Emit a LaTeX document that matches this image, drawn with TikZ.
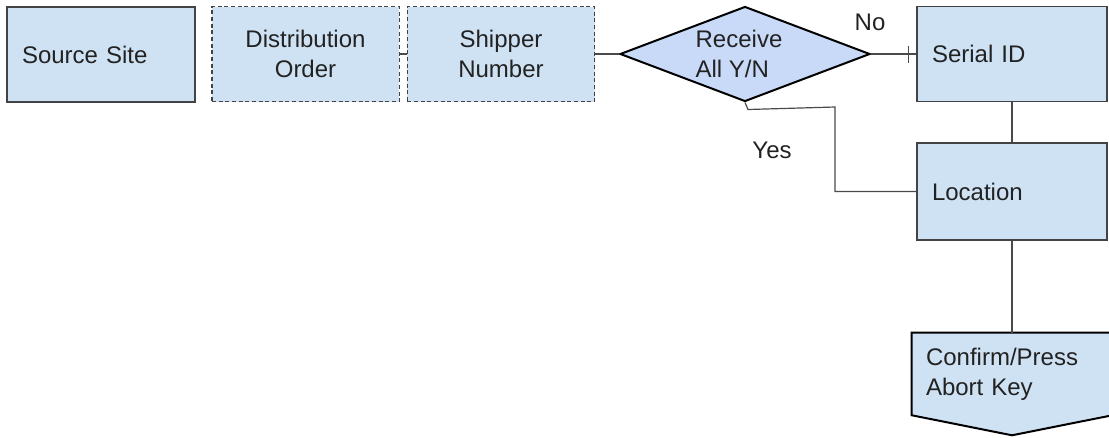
\documentclass[tikz,border=0pt]{standalone}
\usepackage{fontspec}
\setmainfont{Liberation Sans}
\usepackage{tikz}
\usetikzlibrary{shapes.geometric, arrows.meta, positioning, calc, backgrounds}
\definecolor{boxblue}{HTML}{CFE2F3}
\definecolor{diablue}{HTML}{C9DAF8}
\definecolor{edgegray}{HTML}{434343}
\definecolor{linegray}{HTML}{4A4A4A}
\definecolor{txtdark}{HTML}{222222}
\tikzset{
  solidbox/.style={rectangle, draw=edgegray, fill=boxblue, line width=1.1pt,
    minimum height=71.25pt, inner xsep=11.25pt, text width=118.5pt, align=left},
  dashbox/.style={rectangle, draw=edgegray, fill=boxblue, line width=1pt,
    dash pattern=on 3pt off 2pt, minimum height=71.25pt,
    inner xsep=0pt, text width=140.5pt, align=center},
  sidebox/.style={rectangle, draw=edgegray, fill=boxblue, line width=1.1pt,
    inner xsep=11.25pt, text width=120pt, minimum height=71.25pt, align=left},
  decision/.style={diamond, draw=black, fill=diablue, line width=1.5pt,
    minimum width=187.5pt, minimum height=71.25pt, aspect=2.63, inner sep=0pt, align=left},
  link/.style={draw=linegray, line width=0.9pt},
  lbl/.style={font=\fontsize{18}{22.5}\selectfont}
}

\begin{document}
\begin{tikzpicture}[x=0.75pt, y=-0.75pt, font=\fontsize{18}{22.5}\selectfont, text=txtdark]
  \useasboundingbox (0,0) rectangle (1109,437);

  % Top row
  \node[solidbox] (src) at (101,54.5) {Source Site};
  \node[dashbox] (dord) at (305.5,54) {Distribution\\Order};
  \node[dashbox] (ship) at (501,54) {Shipper\\Number};
  \node[decision] (recv) at (745,54) {\hspace*{-9pt}Receive\\\hspace*{-9pt}All Y/N};

  % Right column
  \node[sidebox] (serial) at (1012,54) {Serial ID};
  \node[sidebox, minimum height=72.75pt] (loc) at (1012,191.5) {Location};
  \node[rectangle, inner xsep=10.5pt, text width=129pt, minimum height=61.5pt, align=left] (cfm) at (1012,374) {Confirm/Press\\Abort Key};
  \begin{pgfonlayer}{background}
    \draw[draw=black, fill=boxblue, line width=1.5pt] (cfm.north west) -- (cfm.north east) -- (cfm.south east)
      -- ($(cfm.south)+(0,20)$) -- (cfm.south west) -- cycle;
  \end{pgfonlayer}

  % Connections
  \draw[link] (dord.east) -- (ship.west);
  \draw[link] (ship.east) -- (recv.west);
  \draw[link] (recv.east) -- (serial.west);
  \coordinate (tick) at ($(serial.west)+(-8,0)$);
  \draw[link] ($(tick)+(0,-8)$) -- ($(tick)+(0,9)$);
  \node[lbl] (no) at (870,22) {No};
  \draw[link] (serial.south) -- (loc.north);
  \coordinate (yesbend) at (835,107);
  \draw[link] (recv.south) -- ++(3,7) -- (yesbend) |- (loc.west);
  \node[lbl] (yes) at (772,150) {Yes};
  \draw[link] (loc.south) -- (cfm.north);
\end{tikzpicture}
\end{document}
